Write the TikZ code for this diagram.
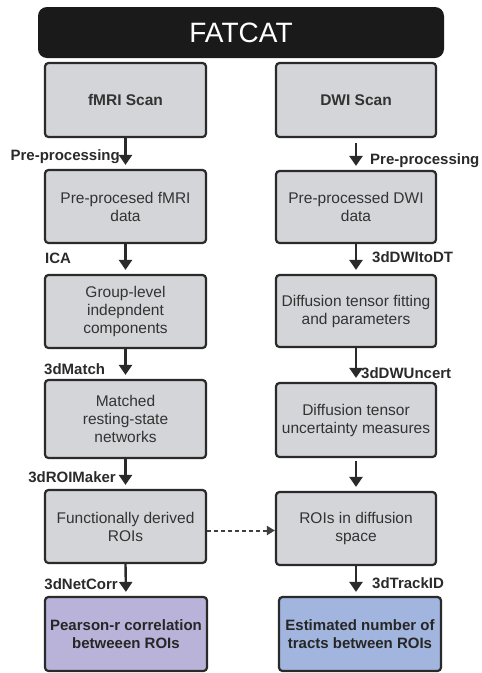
\documentclass[tikz,border=0pt]{standalone}
\usepackage{fontspec}
\setmainfont{Liberation Sans}
\usetikzlibrary{arrows.meta}
\definecolor{boxfill}{HTML}{D3D5D8}
\definecolor{boxline}{HTML}{2A2A2A}
\definecolor{txt}{HTML}{333333}
\definecolor{lav}{HTML}{B9B3D9}
\definecolor{blu}{HTML}{A1B5DE}
\definecolor{titlebg}{HTML}{1A1A1A}
\tikzset{
  stepbox/.style={draw=boxline, line width=2.2pt, fill=boxfill, rounded corners=3.5pt,
    text=txt, align=center, inner sep=0pt,
    font=\fontsize{15.5}{18}\selectfont},
  flow/.style={draw=boxline, line width=2.4pt, -{Triangle[length=10pt,width=13pt]}, shorten >=4pt},
  lbl/.style={font=\fontsize{15}{17}\selectfont\bfseries, text=boxline, inner sep=0pt},
  dasharrow/.style={draw=boxline!90, line width=2pt, dash pattern=on 4pt off 3pt, -{Triangle[length=8pt,width=9pt]}}
}
\newcommand{\bx}[6]{\node[stepbox, minimum width={#4-#2}, minimum height={#5-#3}, #6] (#1) at ({(#2+#4)/2},{(#3+#5)/2})}
\begin{document}
\begin{tikzpicture}[x=1pt,y=-1pt]
\useasboundingbox (0,0) rectangle (482,673);
\node[fill=titlebg, rounded corners=9pt, minimum width=406pt, minimum height=51pt, text=white,
  font=\fontsize{28}{30}\selectfont, inner sep=0pt] (title) at (241,32.5) {FATCAT};
\bx{fmri}{45}{63}{206}{137}{font=\fontsize{15.5}{18}\selectfont\bfseries} {fMRI Scan};
\bx{dwi}{276}{63}{436}{137}{font=\fontsize{15.5}{18}\selectfont\bfseries} {DWI Scan};
\bx{ppf}{45}{170}{206}{243}{} {Pre-procesed fMRI\\data};
\bx{ppd}{276}{171}{436}{243}{} {Pre-processed DWI\\data};
\bx{grp}{45}{275}{206}{348}{} {Group-level\\indepndent\\components};
\bx{dtf}{276}{275}{436}{347}{} {Diffusion tensor fitting\\and parameters};
\bx{mat}{45}{380}{206}{458}{} {Matched\\resting-state\\networks};
\bx{unc}{276}{383}{436}{457}{} {Diffusion tensor\\uncertainty measures};
\bx{fun}{45}{490}{206}{563}{} {Functionally derived\\ROIs};
\bx{roi}{276}{492}{436}{565}{} {ROIs in diffusion\\space};
\bx{pear}{45}{597}{207}{671}{fill=lav, font=\fontsize{15}{18}\selectfont\bfseries, text=black!85} {Pearson-r correlation\\betweeen ROIs};
\bx{est}{279}{597}{441}{671}{fill=blu, font=\fontsize{15}{18}\selectfont\bfseries, text=black!85} {Estimated number of\\tracts between ROIs};
% arrows left
\draw[flow] (fmri.south) -- (ppf.north);
\draw[flow] (ppf.south) -- (grp.north);
\draw[flow] (grp.south) -- (mat.north);
\draw[flow] (mat.south) -- (fun.north);
\draw[flow] (fun.south) -- (pear.north);
% arrows right
\draw[flow, shorten <=5pt] (dwi.south) -- (ppd.north);
\draw[flow] (ppd.south) -- (dtf.north);
\draw[flow] (dtf.south) -- (unc.north);
\draw[flow, shorten <=3pt] (unc.south) -- (roi.north);
\draw[flow] (roi.south) -- (roi.south |- est.north);
% dashed
\draw[dasharrow] ([yshift=-4pt]fun.east) -- ([yshift=-4pt]fun.east -| roi.west);
% labels
\node[lbl, anchor=east] (l1) at (120,157) {Pre-processing};
\node[lbl, anchor=west] (l2) at (370,161) {Pre-processing};
\node[lbl, anchor=west] (l3) at (45,258) {ICA};
\node[lbl, anchor=west] (l4) at (372,257) {3dDWItoDT};
\node[lbl, anchor=west] (l5) at (44,369) {3dMatch};
\node[lbl, anchor=west] (l6) at (361,373) {3dDWUncert};
\node[lbl, anchor=east] (l7) at (116,477) {3dROIMaker};
\node[lbl, anchor=east] (l8) at (118,584) {3dNetCorr};
\node[lbl, anchor=west] (l9) at (372,583) {3dTrackID};
\end{tikzpicture}
\end{document}
